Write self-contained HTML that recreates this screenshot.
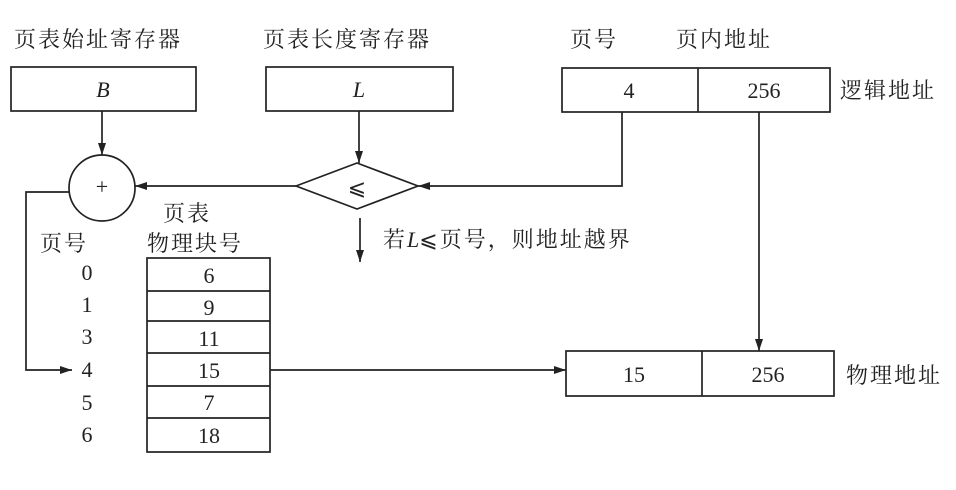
<!DOCTYPE html>
<html><head><meta charset="utf-8"><style>
html,body{margin:0;padding:0;background:#fff;}
svg text{font-family:"Liberation Serif","Noto Serif CJK SC",serif;fill:#222;}
.cj{font-family:"Liberation Serif","Noto Serif CJK SC",serif;font-size:22px;letter-spacing:2px;}
.n{font-size:22px;text-anchor:middle;}
</style></head><body>
<svg width="956" height="485" viewBox="0 0 956 485" xmlns="http://www.w3.org/2000/svg">
<defs><marker id="a" markerWidth="12" markerHeight="8" refX="12" refY="4" orient="auto" markerUnits="userSpaceOnUse"><path d="M0,0 L12,4 L0,8 Z" fill="#222"/></marker></defs>
<g stroke="#222" stroke-width="1.7" fill="none">
<rect x="11" y="67" width="185" height="44"/>
<rect x="266" y="67" width="187" height="44"/>
<rect x="562" y="68" width="268" height="44"/>
<line x1="698" y1="68" x2="698" y2="112"/>
<rect x="566" y="351" width="268" height="45"/>
<line x1="702" y1="351" x2="702" y2="396"/>
<circle cx="102" cy="188" r="33"/>
<polygon points="296,186 357,163 418,186 357,209"/>
<rect x="147" y="258" width="123" height="194"/>
<line x1="147" y1="291" x2="270" y2="291"/>
<line x1="147" y1="321" x2="270" y2="321"/>
<line x1="147" y1="353" x2="270" y2="353"/>
<line x1="147" y1="386" x2="270" y2="386"/>
<line x1="147" y1="418" x2="270" y2="418"/>
<line x1="102" y1="111" x2="102" y2="155" marker-end="url(#a)"/>
<line x1="359" y1="111" x2="359" y2="163" marker-end="url(#a)"/>
<line x1="296" y1="186" x2="135" y2="186" marker-end="url(#a)"/>
<polyline points="622,112 622,186 418,186" marker-end="url(#a)"/>
<line x1="360" y1="218" x2="360" y2="262" marker-end="url(#a)"/>
<polyline points="69,192 26,192 26,370 72,370" marker-end="url(#a)"/>
<line x1="270" y1="370" x2="566" y2="370" marker-end="url(#a)"/>
<line x1="759" y1="112" x2="759" y2="351" marker-end="url(#a)"/>
</g>
<text class="cj" x="14" y="47">页表始址寄存器</text>
<text class="cj" x="263" y="47">页表长度寄存器</text>
<text class="cj" x="570" y="47">页号</text>
<text class="cj" x="676" y="47">页内地址</text>
<text class="cj" x="840" y="98">逻辑地址</text>
<text class="cj" x="846" y="383">物理地址</text>
<text class="cj" x="163" y="221">页表</text>
<text class="cj" x="40" y="251">页号</text>
<text class="cj" x="147" y="251">物理块号</text>
<text class="cj" x="383" y="247">若<tspan font-style="italic" letter-spacing="0">L</tspan>⩽页号，则地址越界</text>
<text class="n" x="103" y="97" font-style="italic">B</text>
<text class="n" x="359" y="97" font-style="italic">L</text>
<text class="n" x="629" y="98">4</text>
<text class="n" x="764" y="98">256</text>
<text class="n" x="634" y="382">15</text>
<text class="n" x="768" y="382">256</text>
<text class="n" x="102" y="194" font-size="16">+</text>
<text class="n" x="357" y="195" font-size="24">⩽</text>
<text class="n" x="87" y="280">0</text><text class="n" x="209" y="283">6</text>
<text class="n" x="87" y="312">1</text><text class="n" x="209" y="315">9</text>
<text class="n" x="87" y="344">3</text><text class="n" x="209" y="346">11</text>
<text class="n" x="87" y="377">4</text><text class="n" x="209" y="378">15</text>
<text class="n" x="87" y="410">5</text><text class="n" x="209" y="410">7</text>
<text class="n" x="87" y="442">6</text><text class="n" x="209" y="443">18</text>
</svg>
</body></html>
